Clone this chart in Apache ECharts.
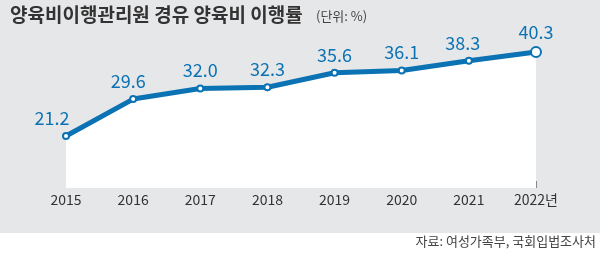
<!DOCTYPE html>
<html><head><meta charset="utf-8">
<script src="https://cdn.jsdelivr.net/npm/echarts@6/dist/echarts.min.js"></script>
<style>html,body{margin:0;padding:0;background:#fff}#c{width:600px;height:253px}</style>
</head><body><div id="c"></div>
<script>
const years = ['2015','2016','2017','2018','2019','2020','2021','2022'];
const yearLabels = ['2015','2016','2017','2018','2019','2020','2021','2022년'];
const rates = [21.2, 29.6, 32.0, 32.3, 35.6, 36.1, 38.3, 40.3];
const labelOffsetX = [-14, -5, 0, 0, 0, 0, -6, 0];

const FONT = '"Noto Sans CJK KR", "Noto Sans", sans-serif';
const BLUE = '#0b72b4';
const chart = echarts.init(document.getElementById('c'), null, {renderer:'canvas'});
chart.setOption({
  backgroundColor: '#fff',
  animation: false,
  graphic: [
    {type:'rect', z:-10, silent:true, shape:{x:0,y:0,width:600,height:233}, style:{fill:'#e6e7e9'}},
    {type:'text', left:10, top:5, style:{text:'양육비이행관리원 경유 양육비 이행률', font:'bold 19px '+FONT, fill:'#333'}},
    {type:'text', left:316, top:10, style:{text:'(단위: %)', font:'13px '+FONT, fill:'#444'}},
    {type:'text', right:4, top:235, style:{text:'자료: 여성가족부, 국회입법조사처', font:'13px '+FONT, fill:'#444'}}
  ],
  grid: {left:66, right:64, top:52, bottom:65},
  xAxis: {
    type:'category', data: years, boundaryGap:false,
    axisLine:{show:false},
    axisTick:{show:true, inside:true, length:7, lineStyle:{color:'#888'}},
    axisLabel:{margin:5, fontSize:14, color:'#333', fontFamily:FONT,
      formatter:(v,i)=>yearLabels[i]}
  },
  yAxis: {type:'value', min:9.4, max:40.3, show:false, splitLine:{show:false}},
  series: [{
    type:'line', z:5,
    data: rates.map((v,i)=>({
      value:v,
      symbolSize: i===rates.length-1 ? 10 : 6,
      label:{offset:[labelOffsetX[i],0]}
    })),
    symbol:'circle',
    itemStyle:{color:'#fff', borderColor:BLUE, borderWidth:2},
    lineStyle:{color:BLUE, width:5},
    areaStyle:{color:'#fff', opacity:1, origin:'start'},
    label:{show:true, position:'top', distance:5, fontSize:18, color:BLUE, fontFamily:FONT,
      formatter:p=>p.value.toFixed(1)}
  }]
});
</script></body></html>
